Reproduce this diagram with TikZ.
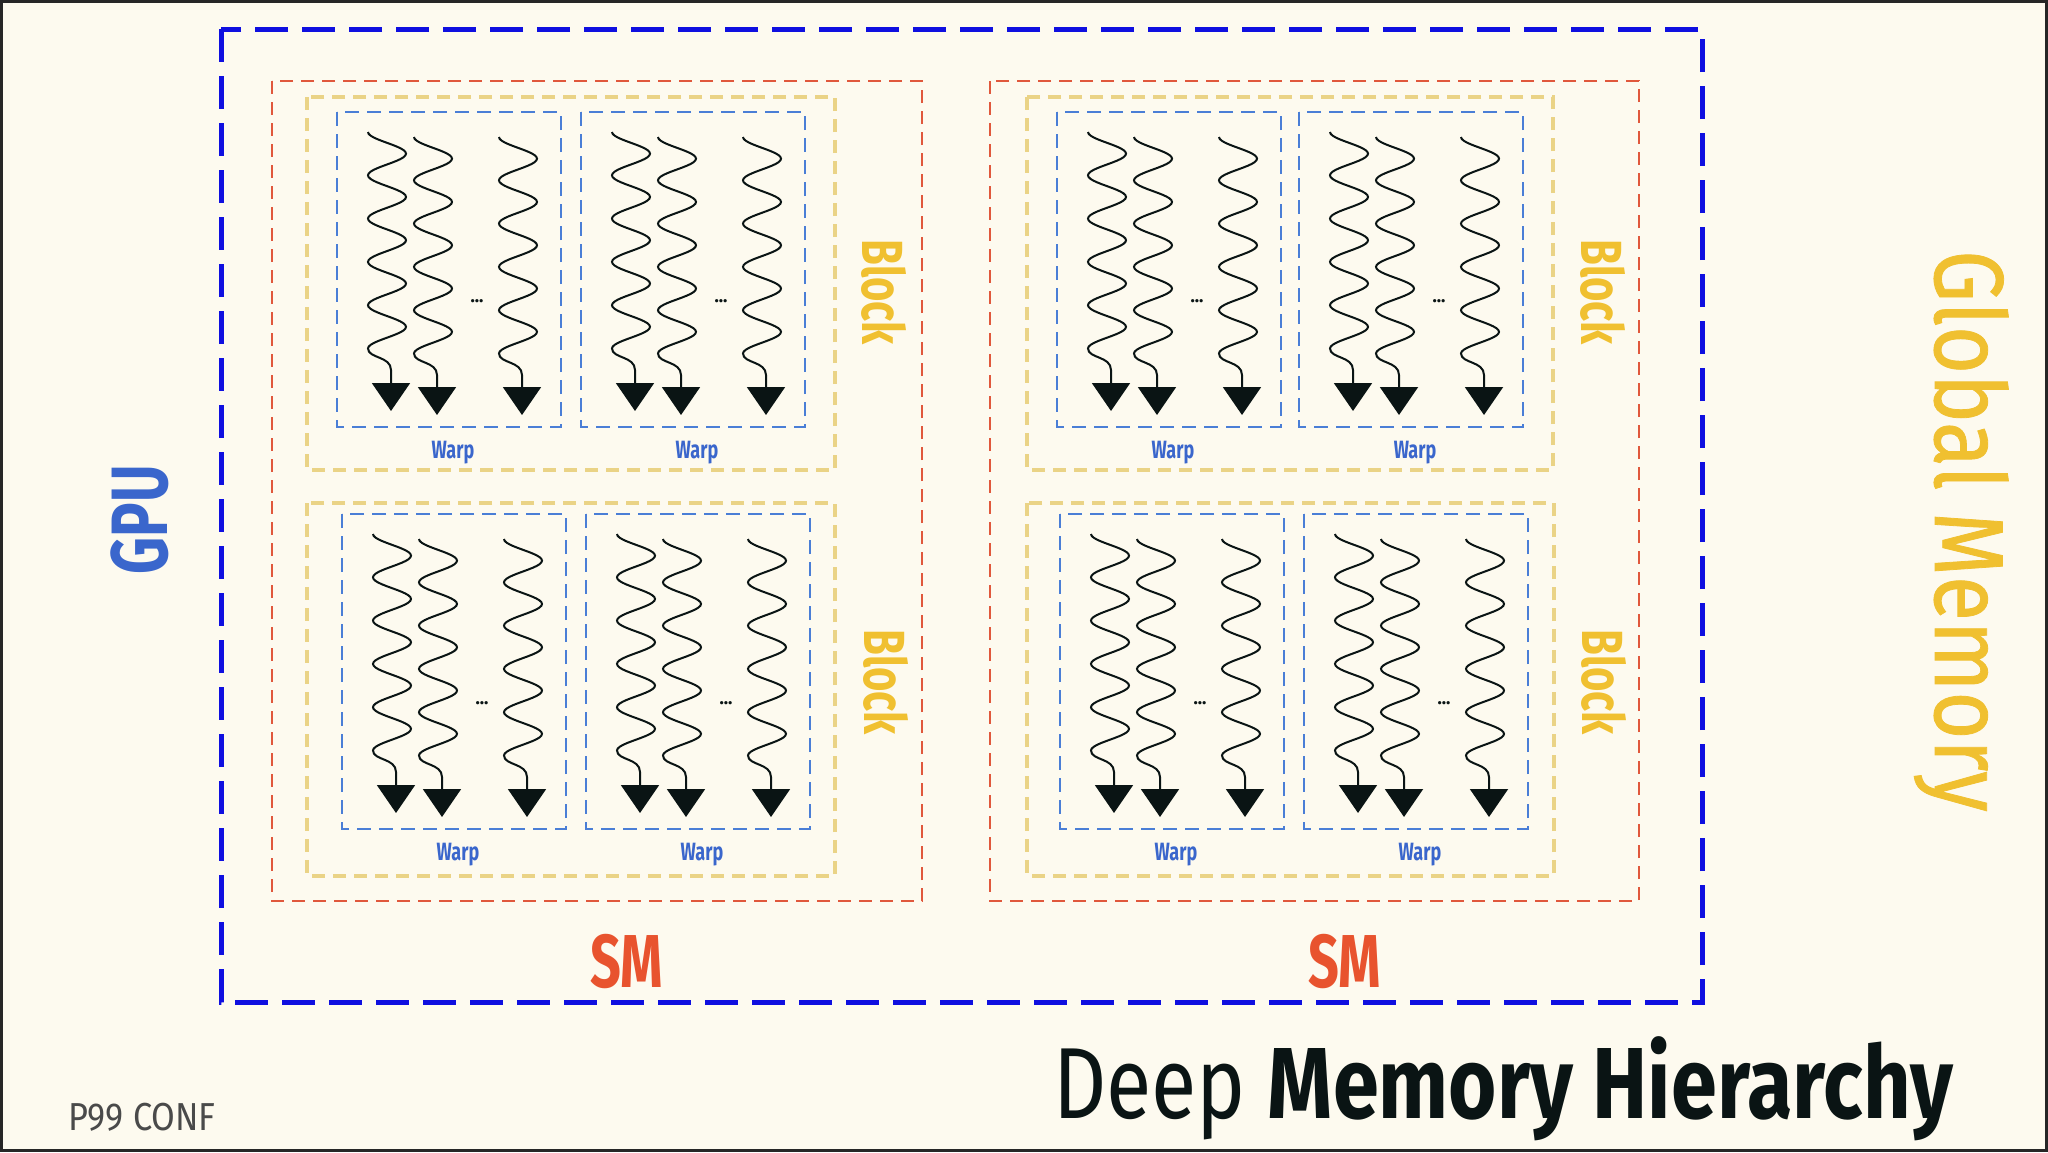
\documentclass[tikz,border=0pt]{standalone}
\usepackage{fontspec}
\setmainfont{Fira Sans}
\newfontfamily\fcond[FakeStretch=0.72]{Fira Sans}
\newfontfamily\fglob[FakeStretch=0.84,FakeBold=0.8]{Fira Sans}
\newfontfamily\ftitle[FakeStretch=0.82]{Fira Sans}
\newfontfamily\flogo[FakeStretch=0.88]{Fira Sans}
\usetikzlibrary{arrows.meta}
\definecolor{bg}{HTML}{FDFAEF}
\definecolor{gpublue}{HTML}{0F0FE0}
\definecolor{smred}{HTML}{E0583C}
\definecolor{blkyel}{HTML}{EAD386}
\definecolor{warpblue}{HTML}{4A7ED6}
\definecolor{lblyel}{HTML}{F0C030}
\definecolor{lblred}{HTML}{E8532E}
\definecolor{lblblue}{HTML}{3A66CC}
\definecolor{ink}{HTML}{0A1414}
\definecolor{logogrey}{HTML}{4A4A4A}
\newcommand\thr[3]{%
  \draw[thread] plot[domain=0:5,samples=121] ({#1-19*cos(\x*360)},{#2+43.3*\x})
    .. controls ({#1-19},{#2+226.5}) and ({#1+4},{#2+224}) .. ({#1+4},{#2+238}) -- ({#1+4},{#3});}
\newcommand\mywarp[3]{%
  \begin{scope}[shift={(#2,#3)}]
    \draw[warpbox] (0,0) rectangle (224,315);
    \thr{50}{20}{299}
    \thr{96}{25}{303}
    \thr{181}{25}{303}
    \node[dotslbl] (#1d) at (140,190) {...};
    \node[warplbl] (#1l) at (116,346) {Warp};
  \end{scope}}
\begin{document}
\begin{tikzpicture}[x=1pt,y=-1pt,
  gpubox/.style={draw=gpublue, line width=5pt, dash pattern=on 33pt off 14pt},
  smbox/.style={draw=smred, line width=2.5pt, dash pattern=on 13pt off 8pt},
  blockbox/.style={draw=blkyel, line width=3.5pt, dash pattern=on 13pt off 8pt},
  warpbox/.style={draw=warpblue, line width=2.5pt, dash pattern=on 14pt off 8pt},
  thread/.style={draw=ink, line width=2pt, -{Triangle[width=38pt,length=28pt]}},
  warplbl/.style={text=lblblue, font=\fcond\bfseries\fontsize{25}{25}\selectfont, inner sep=0pt, anchor=base},
  dotslbl/.style={text=ink, font=\bfseries\fontsize{18}{18}\selectfont, inner sep=0pt, anchor=base},
  blocklbl/.style={text=lblyel, font=\fcond\bfseries\fontsize{58}{58}\selectfont, rotate=-90, inner sep=0pt, anchor=base},
  smlbl/.style={text=lblred, font=\fcond\bfseries\fontsize{75}{75}\selectfont, inner sep=0pt, anchor=base},
  gpulbl/.style={text=lblblue, font=\fcond\bfseries\fontsize{80}{80}\selectfont, rotate=90, inner sep=0pt, anchor=base},
  globlbl/.style={text=lblyel, font=\fglob\fontsize{98}{98}\selectfont, rotate=-90, inner sep=0pt, anchor=base},
  titlelbl/.style={text=ink, font=\ftitle\fontsize{101}{101}\selectfont, inner sep=0pt, anchor=base west},
  logolbl/.style={text=logogrey, font=\flogo\fontsize{39}{39}\selectfont, inner sep=0pt, anchor=base west}
]
\useasboundingbox (0,0) rectangle (2048,1152);
\fill[bg] (0,0) rectangle (2048,1152);

% GPU
\draw[gpubox] (221,29) rectangle (1702,1002);
% SMs
\draw[smbox] (272,81) rectangle (922,901);
\draw[smbox] (990,81) rectangle (1639,901);
% Blocks
\draw[blockbox] (307,97) rectangle (835,470);
\draw[blockbox] (307,503) rectangle (835,876);
\draw[blockbox] (1027,97) rectangle (1553,470);
\draw[blockbox] (1027,503) rectangle (1554,876);
% Warps
\mywarp{wa}{337}{112}
\mywarp{wb}{581}{112}
\mywarp{wc}{342}{514}
\mywarp{wd}{586}{514}
\mywarp{we}{1057}{112}
\mywarp{wf}{1299}{112}
\mywarp{wg}{1060}{514}
\mywarp{wh}{1304}{514}

% labels
\node[blocklbl] (bl1) at (862,292) {Block};
\node[blocklbl] (bl2) at (864,682) {Block};
\node[blocklbl] (bl3) at (1581,292) {Block};
\node[blocklbl] (bl4) at (1582,682) {Block};
\node[smlbl] (sm1) at (627,987) {SM};
\node[smlbl] (sm2) at (1345,987) {SM};
\node[gpulbl] (gpu) at (167,520) {GPU};
\node[globlbl] (glob) at (1935,531) {Global Memory};
\node[titlelbl] (title) at (1053,1118) {Deep \bfseries Memory Hierarchy};
\node[logolbl] (logo) at (68,1130) {P99 CONF};

% frame
\draw[black!85, line width=3pt] (1.5,1.5) rectangle (2046.5,1150.5);
\end{tikzpicture}
\end{document}
